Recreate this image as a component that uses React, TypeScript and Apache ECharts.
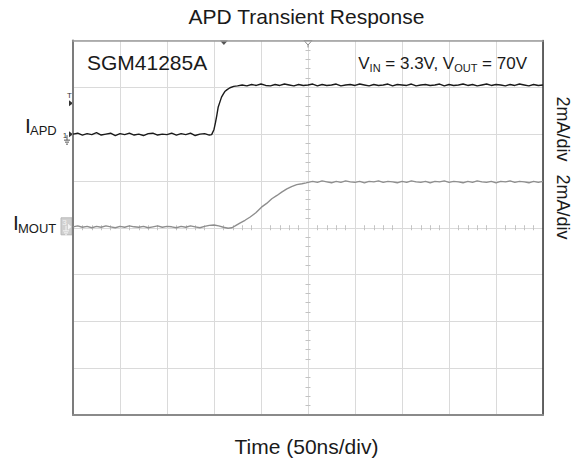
import React, { useEffect, useRef } from 'react';
import * as echarts from 'echarts';

const chartTitle = 'APD Transient Response';
const xAxisTitle = 'Time (50ns/div)';
const deviceLabel = 'SGM41285A';
const scaleLabels = ['2mA/div', '2mA/div'];

// screen divisions (centered): time -5..5 div, vertical -4..4 div
const timeRange = [-5, 5];
const vertRange = [-4, 4];

// Channel 1: I_APD (divisions)
const apdTrace: [number, number][] = [
  [-5.0, 2.0], [-4.9, 2.02], [-4.8, 1.98], [-4.7, 2.01], [-4.6, 1.99], [-4.5, 2.03], [-4.4, 1.98], [-4.3, 2.0],
  [-4.2, 2.02], [-4.1, 1.97], [-4.0, 2.01], [-3.9, 1.99], [-3.8, 2.02], [-3.7, 1.98], [-3.6, 2.0], [-3.5, 1.97],
  [-3.4, 2.01], [-3.3, 2.02], [-3.2, 1.98], [-3.1, 2.0], [-3.0, 1.99], [-2.9, 2.02], [-2.8, 1.98], [-2.7, 2.01],
  [-2.6, 1.99], [-2.5, 2.02], [-2.4, 1.97], [-2.3, 2.0], [-2.2, 2.01], [-2.1, 1.98],
  [-2.05, 1.99], [-2.0, 2.1], [-1.97, 2.24], [-1.94, 2.4], [-1.91, 2.58], [-1.87, 2.7], [-1.84, 2.79],
  [-1.8, 2.86], [-1.77, 2.91], [-1.72, 2.95], [-1.66, 2.99], [-1.58, 3.02], [-1.5, 3.03],
  [-1.4, 3.05], [-1.3, 3.03], [-1.2, 3.06], [-1.1, 3.04], [-1.0, 3.07], [-0.9, 3.04], [-0.8, 3.03], [-0.7, 3.06],
  [-0.6, 3.04], [-0.5, 3.07], [-0.4, 3.05], [-0.3, 3.03], [-0.2, 3.06], [-0.1, 3.04], [0.0, 3.05], [0.1, 3.07],
  [0.2, 3.03], [0.3, 3.06], [0.4, 3.04], [0.5, 3.05], [0.6, 3.07], [0.7, 3.03], [0.8, 3.05], [0.9, 3.06],
  [1.0, 3.04], [1.1, 3.07], [1.2, 3.05], [1.3, 3.03], [1.4, 3.06], [1.5, 3.04], [1.6, 3.05], [1.7, 3.07],
  [1.8, 3.03], [1.9, 3.06], [2.0, 3.05], [2.1, 3.04], [2.2, 3.07], [2.3, 3.03], [2.4, 3.05], [2.5, 3.06],
  [2.6, 3.04], [2.7, 3.05], [2.8, 3.07], [2.9, 3.03], [3.0, 3.06], [3.1, 3.04], [3.2, 3.05], [3.3, 3.07],
  [3.4, 3.04], [3.5, 3.06], [3.6, 3.03], [3.7, 3.05], [3.8, 3.07], [3.9, 3.04], [4.0, 3.06], [4.1, 3.05],
  [4.2, 3.03], [4.3, 3.06], [4.4, 3.04], [4.5, 3.07], [4.6, 3.05], [4.7, 3.03], [4.8, 3.06], [4.9, 3.04], [5.0, 3.05],
];

// Channel 3: I_MOUT (divisions)
const moutTrace: [number, number][] = [
  [-5.0, 0.02], [-4.9, 0.04], [-4.8, 0.01], [-4.7, 0.03], [-4.6, 0.0], [-4.5, 0.03], [-4.4, 0.01], [-4.3, 0.04],
  [-4.2, 0.02], [-4.1, 0.0], [-4.0, 0.03], [-3.9, 0.01], [-3.8, 0.04], [-3.7, 0.02], [-3.6, 0.01], [-3.5, 0.03],
  [-3.4, 0.0], [-3.3, 0.02], [-3.2, 0.04], [-3.1, 0.01], [-3.0, 0.03], [-2.9, 0.02], [-2.8, 0.0], [-2.7, 0.03],
  [-2.6, 0.01], [-2.5, 0.04], [-2.4, 0.02], [-2.3, 0.0], [-2.2, 0.03], [-2.1, 0.05], [-2.0, 0.06], [-1.9, 0.04],
  [-1.8, 0.01], [-1.7, -0.01],
  [-1.62, 0.0], [-1.55, 0.04], [-1.45, 0.1], [-1.34, 0.16], [-1.23, 0.23], [-1.11, 0.32], [-0.99, 0.44],
  [-0.88, 0.52], [-0.77, 0.62], [-0.66, 0.69], [-0.56, 0.76], [-0.45, 0.83], [-0.35, 0.88], [-0.24, 0.92],
  [-0.13, 0.94], [-0.04, 0.96],
  [0.0, 0.97], [0.1, 0.99], [0.2, 0.97], [0.3, 1.0], [0.4, 0.98], [0.5, 0.96], [0.6, 0.99], [0.7, 0.97],
  [0.8, 1.0], [0.9, 0.98], [1.0, 0.97], [1.1, 0.99], [1.2, 0.96], [1.3, 0.99], [1.4, 0.98], [1.5, 1.0],
  [1.6, 0.97], [1.7, 0.99], [1.8, 0.98], [1.9, 0.96], [2.0, 0.99], [2.1, 0.97], [2.2, 1.0], [2.3, 0.98],
  [2.4, 0.97], [2.5, 0.99], [2.6, 0.96], [2.7, 0.99], [2.8, 0.98], [2.9, 1.0], [3.0, 0.97], [3.1, 0.99],
  [3.2, 0.98], [3.3, 0.96], [3.4, 0.99], [3.5, 0.97], [3.6, 1.0], [3.7, 0.98], [3.8, 0.97], [3.9, 0.99],
  [4.0, 0.96], [4.1, 0.99], [4.2, 0.98], [4.3, 1.0], [4.4, 0.97], [4.5, 0.99], [4.6, 0.98], [4.7, 0.96],
  [4.8, 0.99], [4.9, 0.97], [5.0, 0.99],
];

const triggerTime = -1.79;
const triggerLevel = 2.66;
const ch1Ground = 2.0;
const ch3Ground = 0.02;

const FONT = '"Liberation Sans", Arial, Helvetica, sans-serif';

export default function App() {
  const ref = useRef<HTMLDivElement>(null);

  useEffect(() => {
    if (!ref.current) return;
    document.body.style.margin = '0';
    const chart = echarts.init(ref.current, undefined, { renderer: 'svg' });

    const xBase = {
      type: 'value' as const,
      min: timeRange[0],
      max: timeRange[1],
      interval: 1,
      axisLabel: { show: false },
      axisTick: { show: false },
    };
    const yBase = {
      type: 'value' as const,
      min: vertRange[0],
      max: vertRange[1],
      interval: 1,
      axisLabel: { show: false },
      axisTick: { show: false },
    };
    const minor = { show: true, splitNumber: 5, length: 2.5, lineStyle: { color: '#c2c2c2', width: 1 } };

    chart.setOption({
      animation: false,
      backgroundColor: '#ffffff',
      textStyle: { fontFamily: FONT },
      grid: { left: 73, right: 42, top: 40.5, bottom: 49, show: false },
      xAxis: [
        {
          ...xBase,
          position: 'bottom',
          axisLine: { show: true, onZero: false, lineStyle: { color: '#8a8a8a', width: 2 } },
          splitLine: { show: true, lineStyle: { color: '#dadada', width: 1 } },
        },
        {
          ...xBase,
          position: 'top',
          axisLine: { show: true, onZero: false, lineStyle: { color: '#9c9c9c', width: 1.5 } },
          splitLine: { show: false },
        },
        {
          ...xBase,
          position: 'bottom',
          axisLine: { show: false, onZero: true, onZeroAxisIndex: 0 },
          axisTick: { show: false, inside: true },
          minorTick: minor,
          splitLine: { show: false },
        },
        {
          ...xBase,
          position: 'bottom',
          axisLine: { show: false, onZero: true, onZeroAxisIndex: 0 },
          axisTick: { show: false, inside: false },
          minorTick: minor,
          splitLine: { show: false },
        },
      ],
      yAxis: [
        {
          ...yBase,
          position: 'left',
          axisLine: { show: true, onZero: false, lineStyle: { color: '#7c7c7c', width: 2 } },
          splitLine: { show: true, lineStyle: { color: '#dadada', width: 1 } },
        },
        {
          ...yBase,
          position: 'right',
          axisLine: { show: true, onZero: false, lineStyle: { color: '#333333', width: 1.5 } },
          splitLine: { show: false },
        },
        {
          ...yBase,
          position: 'left',
          axisLine: { show: false, onZero: true, onZeroAxisIndex: 0 },
          axisTick: { show: false, inside: true },
          minorTick: minor,
          splitLine: { show: false },
        },
        {
          ...yBase,
          position: 'left',
          axisLine: { show: false, onZero: true, onZeroAxisIndex: 0 },
          axisTick: { show: false, inside: false },
          minorTick: minor,
          splitLine: { show: false },
        },
      ],
      series: [
        {
          name: 'I_MOUT',
          type: 'line',
          xAxisIndex: 0,
          yAxisIndex: 0,
          data: moutTrace,
          showSymbol: false,
          lineStyle: { color: '#8e8e8e', width: 1.4 },
          z: 3,
        },
        {
          name: 'I_APD',
          type: 'line',
          xAxisIndex: 0,
          yAxisIndex: 0,
          data: apdTrace,
          showSymbol: false,
          lineStyle: { color: '#1a1a1a', width: 1.4 },
          z: 4,
        },
      ],
    });

    const px = (t: number, v: number) =>
      chart.convertToPixel({ xAxisIndex: 0, yAxisIndex: 0 }, [t, v]) as number[];

    const [leftX, trigY] = px(timeRange[0], triggerLevel);
    const c1Y = px(timeRange[0], ch1Ground)[1];
    const c3Y = px(timeRange[0], ch3Ground)[1];
    const [trigX, topY] = px(triggerTime, vertRange[1]);
    const centerX = px(0, 0)[0];

    const groundLines = (x: number, y: number, color: string) => [
      { type: 'line', shape: { x1: x, y1: y, x2: x, y2: y + 5 }, style: { stroke: color, lineWidth: 1 } },
      { type: 'line', shape: { x1: x - 3, y1: y + 5, x2: x + 3, y2: y + 5 }, style: { stroke: color, lineWidth: 1 } },
      { type: 'line', shape: { x1: x - 2, y1: y + 7, x2: x + 2, y2: y + 7 }, style: { stroke: color, lineWidth: 1 } },
      { type: 'line', shape: { x1: x - 1, y1: y + 9, x2: x + 1, y2: y + 9 }, style: { stroke: color, lineWidth: 1 } },
    ];

    const graphic: any[] = [
      {
        type: 'text',
        x: 306.5,
        y: 16.7,
        style: { text: chartTitle, fontSize: 21, fontFamily: FONT, fill: '#1a1a1a', align: 'center', verticalAlign: 'middle' },
      },
      {
        type: 'text',
        x: 306.5,
        y: 446.5,
        style: { text: xAxisTitle, fontSize: 21, fontFamily: FONT, fill: '#1a1a1a', align: 'center', verticalAlign: 'middle' },
      },
      {
        type: 'text',
        x: 87,
        y: 62,
        style: { text: deviceLabel, fontSize: 21, fontFamily: FONT, fill: '#1a1a1a', align: 'left', verticalAlign: 'middle' },
      },
      {
        type: 'text',
        x: 527,
        y: 63.8,
        style: {
          text: '{m|V}{s|IN}{m| = 3.3V, V}{s|OUT}{m| = 70V}',
          align: 'right',
          verticalAlign: 'middle',
          rich: {
            m: { fontSize: 17, fontFamily: FONT, fill: '#1a1a1a', lineHeight: 20 },
            s: { fontSize: 11, fontFamily: FONT, fill: '#1a1a1a', lineHeight: 14, verticalAlign: 'bottom' },
          },
        },
      },
      {
        type: 'text',
        x: 563,
        y: 129,
        rotation: -Math.PI / 2,
        style: { text: scaleLabels[0], fontSize: 18, fontFamily: FONT, fill: '#1a1a1a', align: 'center', verticalAlign: 'middle' },
      },
      {
        type: 'text',
        x: 563,
        y: 207,
        rotation: -Math.PI / 2,
        style: { text: scaleLabels[1], fontSize: 18, fontFamily: FONT, fill: '#1a1a1a', align: 'center', verticalAlign: 'middle' },
      },
      // I_APD label
      {
        type: 'text',
        x: 25,
        y: 125.5,
        style: { text: 'I', fontSize: 21, fontFamily: FONT, fill: '#1a1a1a', align: 'left', verticalAlign: 'middle' },
      },
      {
        type: 'text',
        x: 30,
        y: 130,
        style: { text: 'APD', fontSize: 13, fontFamily: FONT, fill: '#1a1a1a', align: 'left', verticalAlign: 'middle' },
      },
      // I_MOUT label
      {
        type: 'text',
        x: 13,
        y: 222.5,
        style: { text: 'I', fontSize: 21, fontFamily: FONT, fill: '#1a1a1a', align: 'left', verticalAlign: 'middle' },
      },
      {
        type: 'text',
        x: 18,
        y: 228,
        style: { text: 'MOUT', fontSize: 13, fontFamily: FONT, fill: '#1a1a1a', align: 'left', verticalAlign: 'middle' },
      },
      // trigger level marker
      {
        type: 'text',
        x: leftX - 3.5,
        y: trigY - 8,
        style: { text: 'T', fontSize: 8, fontFamily: FONT, fill: '#333', align: 'center', verticalAlign: 'middle' },
      },
      {
        type: 'polygon',
        shape: { points: [[leftX - 4, trigY - 3], [leftX - 4, trigY + 3], [leftX, trigY]] },
        style: { fill: '#333' },
      },
      // channel 1 ground marker
      {
        type: 'text',
        x: leftX - 8,
        y: c1Y + 1,
        style: { text: '1', fontSize: 8, fontFamily: FONT, fill: '#333', align: 'center', verticalAlign: 'middle' },
      },
      {
        type: 'polygon',
        shape: { points: [[leftX - 4, c1Y - 3], [leftX - 4, c1Y + 3], [leftX, c1Y]] },
        style: { fill: '#333' },
      },
      ...groundLines(leftX - 6, c1Y + 1, '#555'),
      // channel 3 ground marker
      {
        type: 'rect',
        shape: { x: leftX - 12, y: c3Y - 9, width: 11, height: 17 },
        style: { fill: '#d0d0d0', stroke: '#b8b8b8', lineWidth: 1 },
      },
      {
        type: 'text',
        x: leftX - 8.5,
        y: c3Y - 4,
        style: { text: '3', fontSize: 8, fontFamily: FONT, fill: '#f4f4f4', align: 'center', verticalAlign: 'middle' },
      },
      {
        type: 'polygon',
        shape: { points: [[leftX - 5, c3Y - 3], [leftX - 5, c3Y + 3], [leftX - 1.5, c3Y]] },
        style: { fill: '#f4f4f4' },
      },
      ...groundLines(leftX - 7, c3Y - 1, '#f4f4f4'),
      // trigger position marker (top)
      {
        type: 'polygon',
        shape: { points: [[trigX - 4, topY], [trigX + 4, topY], [trigX, topY + 4.5]] },
        style: { fill: '#555' },
      },
      // center marker (hollow)
      {
        type: 'polygon',
        shape: { points: [[centerX - 4, topY], [centerX + 4, topY], [centerX, topY + 4.5]] },
        style: { fill: '#fff', stroke: '#8a8a8a', lineWidth: 1 },
      },
      {
        type: 'line',
        shape: { x1: centerX, y1: topY + 4.5, x2: centerX, y2: topY + 7 },
        style: { stroke: '#8a8a8a', lineWidth: 1 },
      },
    ];

    chart.setOption({ graphic });

    return () => {
      chart.dispose();
    };
  }, []);

  return <div ref={ref} style={{ width: 585, height: 464, position: 'absolute', left: 0, top: 0 }} />;
}
